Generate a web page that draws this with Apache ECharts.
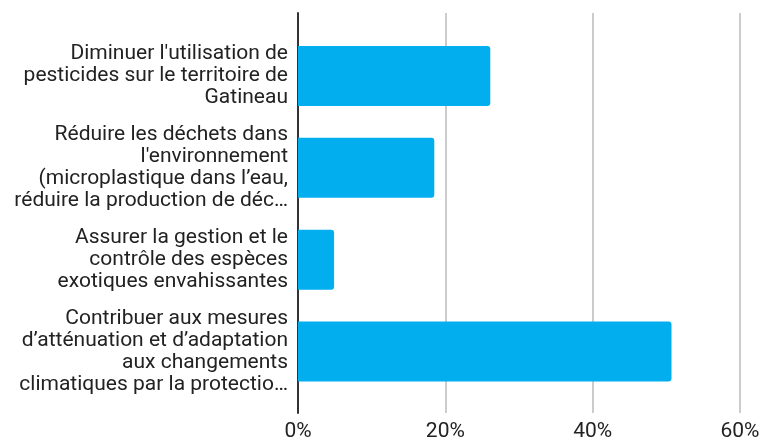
<!DOCTYPE html>
<html>
<head>
<meta charset="utf-8">
<script src="https://cdn.jsdelivr.net/npm/echarts@6/dist/echarts.min.js"></script>
<style>
  html, body { margin: 0; padding: 0; background: #fff; }
  #chart { width: 765px; height: 445px; }
</style>
</head>
<body>
<div id="chart"></div>
<script>
// Objectifs environnementaux (libellés tels qu'affichés, sur plusieurs lignes)
const categories = [
  "Diminuer l'utilisation de\npesticides sur le territoire de\nGatineau",
  "Réduire les déchets dans\nl'environnement\n(microplastique dans l’eau,\nréduire la production de déc…",
  "Assurer la gestion et le\ncontrôle des espèces\nexotiques envahissantes",
  "Contribuer aux mesures\nd’atténuation et d’adaptation\naux changements\nclimatiques par la protectio…"
];
// Part des répondants (%)
const values = [26.1, 18.5, 4.9, 50.7];
// Graduations de l'axe horizontal (%)
const xTicks = [0, 20, 40, 60];

const FONT = 'Roboto, "Noto Sans", sans-serif';
const xMin = xTicks[0], xMax = xTicks[xTicks.length - 1], xStep = xTicks[1] - xTicks[0];

const chart = echarts.init(document.getElementById('chart'), null, { renderer: 'canvas' });
chart.setOption({
  animation: false,
  backgroundColor: '#ffffff',
  textStyle: { fontFamily: FONT },
  grid: [
    // barres et libellés des catégories
    { left: 298, right: 25, top: 30, bottom: 47.5 },
    // graduations, lignes verticales et axe du zéro
    { left: 298, right: 25, top: 13, bottom: 32 }
  ],
  xAxis: [
    {
      gridIndex: 0, type: 'value', min: xMin, max: xMax, interval: xStep,
      axisLine: { show: false }, axisTick: { show: false },
      axisLabel: { show: false }, splitLine: { show: false }
    },
    {
      gridIndex: 1, type: 'value', min: xMin, max: xMax, interval: xStep,
      axisLine: { show: false }, axisTick: { show: false },
      axisLabel: {
        margin: 8, fontSize: 21, color: '#222', fontFamily: FONT,
        formatter: v => v + '%'
      },
      splitLine: { show: true, lineStyle: { color: '#cccccc', width: 2 } }
    }
  ],
  yAxis: [
    {
      gridIndex: 0, type: 'category', data: categories, inverse: true,
      axisLine: { show: false }, axisTick: { show: false },
      axisLabel: {
        margin: 10, fontSize: 21, lineHeight: 22, color: '#222',
        fontFamily: FONT, align: 'right'
      },
      splitLine: { show: false }
    },
    {
      gridIndex: 1, type: 'value', min: 0, max: 1,
      axisLine: { show: true, lineStyle: { color: '#333333', width: 2 } },
      axisTick: { show: false }, axisLabel: { show: false },
      splitLine: { show: false }
    }
  ],
  series: [{
    type: 'bar',
    xAxisIndex: 0, yAxisIndex: 0,
    data: values,
    barWidth: 60,
    itemStyle: { color: '#02AEEE', borderRadius: [0, 3, 3, 0] },
    z: 3
  }]
});
</script>
</body>
</html>
